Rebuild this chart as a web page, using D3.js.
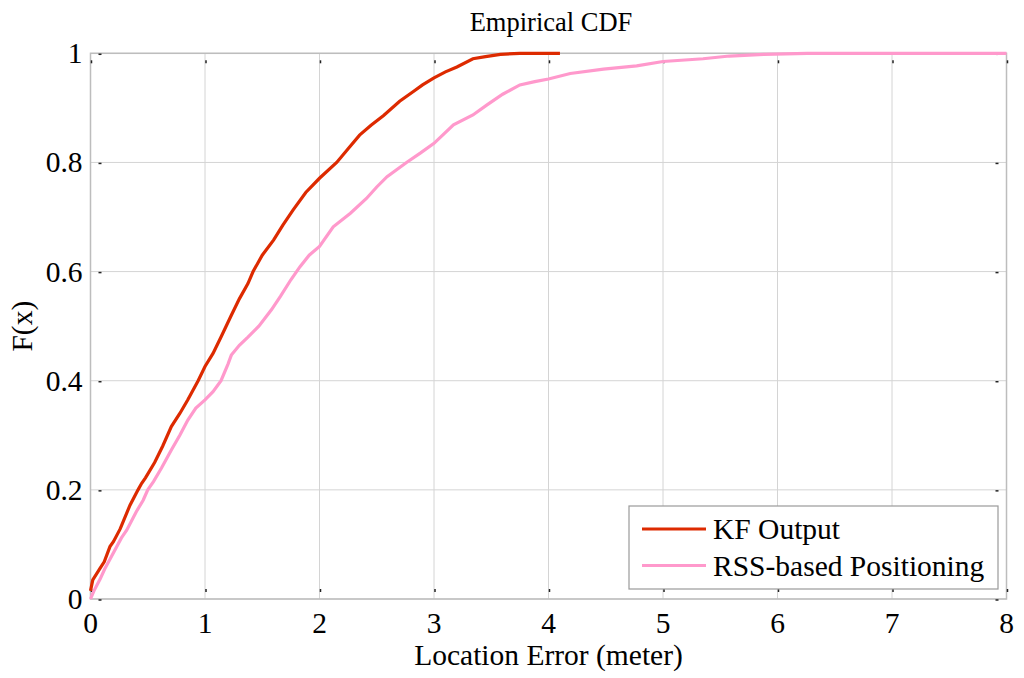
<!DOCTYPE html>
<html>
<head>
<meta charset="utf-8">
<script src="https://cdn.jsdelivr.net/npm/d3@7"></script>
<style>
  html, body { margin: 0; padding: 0; background: #fff; }
  svg text { font-family: "Liberation Serif", "DejaVu Serif", serif; fill: #000; }
</style>
</head>
<body>
<svg id="chart" width="1024" height="678"></svg>
<script>
// ---- Data ----
const kfX = [0, 0.02, 0.083, 0.12, 0.17, 0.2, 0.258, 0.27, 0.345, 0.415, 0.447, 0.48, 0.56, 0.63, 0.706, 0.78, 0.85, 0.94, 1.0, 1.07, 1.14, 1.23, 1.3, 1.375, 1.42, 1.5, 1.6, 1.68, 1.77, 1.88, 2.0, 2.15, 2.25, 2.35, 2.45, 2.56, 2.7, 2.82, 2.9, 3.0, 3.1, 3.2, 3.34, 3.45, 3.58, 3.75, 4.1];
const kfF = [0.015, 0.035, 0.056, 0.068, 0.096, 0.105, 0.128, 0.134, 0.172, 0.2, 0.212, 0.222, 0.25, 0.28, 0.316, 0.34, 0.365, 0.40, 0.426, 0.45, 0.48, 0.52, 0.55, 0.578, 0.60, 0.63, 0.658, 0.685, 0.713, 0.745, 0.771, 0.80, 0.825, 0.85, 0.868, 0.886, 0.912, 0.93, 0.942, 0.955, 0.966, 0.975, 0.99, 0.994, 0.998, 1.0, 1.0];

const rssX = [0, 0.03, 0.083, 0.124, 0.17, 0.27, 0.316, 0.4, 0.46, 0.5, 0.55, 0.62, 0.706, 0.78, 0.85, 0.92, 1.0, 1.07, 1.14, 1.2, 1.23, 1.3, 1.375, 1.47, 1.58, 1.66, 1.75, 1.83, 1.91, 2.0, 2.12, 2.27, 2.41, 2.5, 2.59, 2.76, 2.88, 3.0, 3.17, 3.34, 3.46, 3.6, 3.75, 3.88, 4.0, 4.19, 4.48, 4.77, 5.0, 5.35, 5.58, 5.88, 6.26, 8.0];
const rssF = [0.0, 0.015, 0.036, 0.055, 0.073, 0.112, 0.126, 0.16, 0.181, 0.2, 0.215, 0.24, 0.273, 0.30, 0.328, 0.35, 0.365, 0.38, 0.40, 0.43, 0.447, 0.465, 0.48, 0.50, 0.53, 0.555, 0.585, 0.609, 0.63, 0.646, 0.682, 0.707, 0.734, 0.755, 0.774, 0.80, 0.817, 0.835, 0.869, 0.887, 0.905, 0.925, 0.942, 0.948, 0.953, 0.963, 0.971, 0.977, 0.985, 0.99, 0.995, 0.998, 1.0, 1.0];

const xTicks = [0, 1, 2, 3, 4, 5, 6, 7, 8];
const yTicks = [0, 0.2, 0.4, 0.6, 0.8, 1];
const yTickLabels = ["0", "0.2", "0.4", "0.6", "0.8", "1"];
const seriesNames = ["KF Output", "RSS-based Positioning"];
const seriesColors = ["#dd2a00", "#ff99cc"];

const titleText = "Empirical CDF";
const xLabel = "Location Error (meter)";
const yLabel = "F(x)";

// ---- Layout ----
const L = 90.5, R = 1006.5, T = 53.3, B = 599;
const svg = d3.select("#chart");
const x = d3.scaleLinear().domain([0, 8]).range([L, R]);
const y = d3.scaleLinear().domain([0, 1]).range([B, T]);

// grid
const g = svg.append("g");
g.selectAll(".vg").data(xTicks).join("line")
  .attr("x1", d => x(d)).attr("x2", d => x(d)).attr("y1", T).attr("y2", B)
  .attr("stroke", "#d4d4d4").attr("stroke-width", 1);
g.selectAll(".hg").data(yTicks).join("line")
  .attr("x1", L).attr("x2", R).attr("y1", d => y(d)).attr("y2", d => y(d))
  .attr("stroke", "#d4d4d4").attr("stroke-width", 1);

// axes box
g.append("rect").attr("x", L).attr("y", T).attr("width", R - L).attr("height", B - T)
  .attr("fill", "none").attr("stroke", "#bdbdbd").attr("stroke-width", 1.5);

// tick marks (short black dashes just inside)
const tk = svg.append("g").attr("stroke", "#222").attr("stroke-width", 1.5);
xTicks.forEach(d => {
  tk.append("line").attr("x1", x(d) + 1).attr("x2", x(d) + 1).attr("y1", B - 10).attr("y2", B - 7);
  tk.append("line").attr("x1", x(d) + 1).attr("x2", x(d) + 1).attr("y1", T + 7).attr("y2", T + 10);
});
yTicks.forEach(d => {
  tk.append("line").attr("x1", L + 8).attr("x2", L + 11).attr("y1", y(d) + 1).attr("y2", y(d) + 1);
  tk.append("line").attr("x1", R - 11).attr("x2", R - 8).attr("y1", y(d) + 1).attr("y2", y(d) + 1);
});

// tick labels
svg.selectAll(".xl").data(xTicks).join("text")
  .attr("x", d => x(d)).attr("y", 633).attr("text-anchor", "middle")
  .attr("font-size", 29.5).text(d => d);
svg.selectAll(".yl").data(yTicks).join("text")
  .attr("x", L - 8).attr("y", d => y(d) + 10).attr("text-anchor", "end")
  .attr("font-size", 29.5).text((d, i) => yTickLabels[i]);

// series
const line = d3.line().x(d => x(d[0])).y(d => y(d[1])).curve(d3.curveLinear);
const kfData = kfX.map((v, i) => [v, kfF[i]]);
const rssData = rssX.map((v, i) => [v, rssF[i]]);
const plot = svg.append("g");
plot.append("path").datum(rssData).attr("d", line)
  .attr("fill", "none").attr("stroke", seriesColors[1]).attr("stroke-width", 3.2)
  .attr("stroke-linejoin", "miter");
plot.append("path").datum(kfData).attr("d", line)
  .attr("fill", "none").attr("stroke", seriesColors[0]).attr("stroke-width", 3.2)
  .attr("stroke-linejoin", "miter");

// title and axis labels
svg.append("text").attr("x", 551).attr("y", 31).attr("text-anchor", "middle")
  .attr("font-size", 26.5).text(titleText);
svg.append("text").attr("x", (L + R) / 2).attr("y", 665).attr("text-anchor", "middle")
  .attr("font-size", 29.5).text(xLabel);
svg.append("text").attr("transform", "translate(32," + ((T + B) / 2) + ") rotate(-90)")
  .attr("text-anchor", "middle").attr("font-size", 29.5).text(yLabel);

// legend
const lg = svg.append("g");
lg.append("rect").attr("x", 629).attr("y", 506).attr("width", 369).attr("height", 83)
  .attr("fill", "#fff").attr("stroke", "#9a9a9a").attr("stroke-width", 1.2);
const legendRows = [529, 565.5];
seriesNames.forEach((n, i) => {
  lg.append("line").attr("x1", 642).attr("x2", 706).attr("y1", legendRows[i]).attr("y2", legendRows[i])
    .attr("stroke", seriesColors[i]).attr("stroke-width", 3.2);
  lg.append("text").attr("x", 713).attr("y", legendRows[i] + 10).attr("font-size", 29.5).text(n);
});
</script>
</body>
</html>
